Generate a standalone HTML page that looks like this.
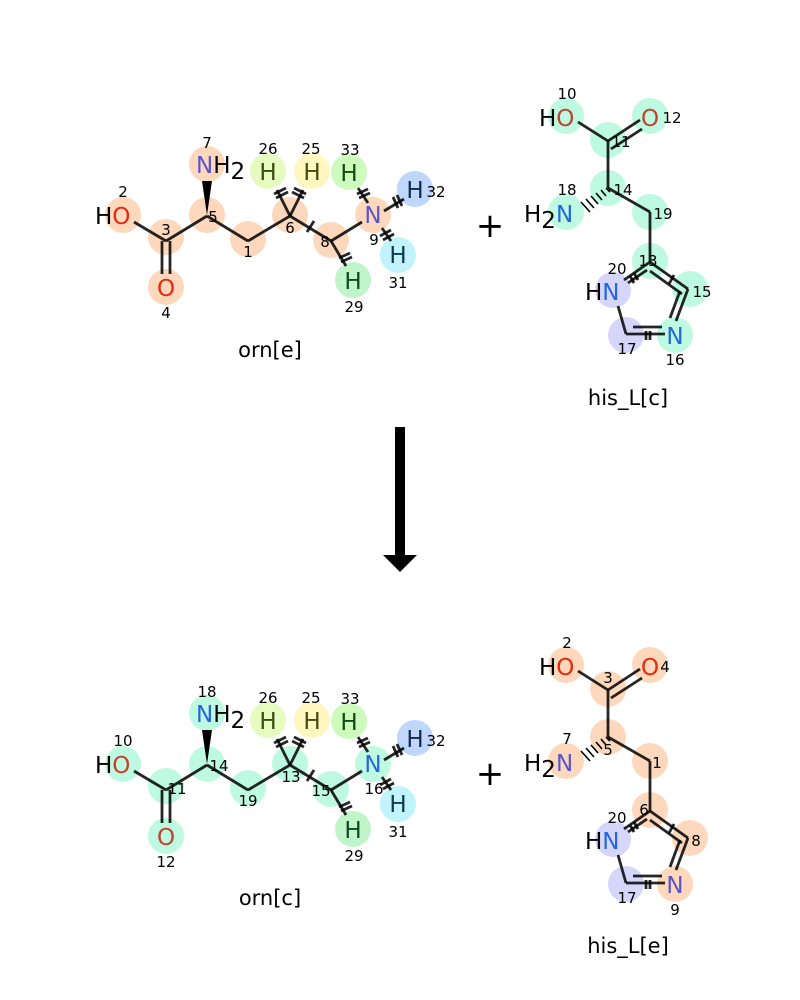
<!DOCTYPE html>
<html><head><meta charset="utf-8"><style>
html,body{margin:0;padding:0;background:#fff}
svg{display:block}
text{font-family:"DejaVu Sans","Liberation Sans",sans-serif}
.e{font-size:23px}
.n{font-size:15px;fill:#000}
.c{font-size:21px;fill:#000}
</style></head><body>
<svg width="800" height="1000" viewBox="0 0 800 1000" xmlns="http://www.w3.org/2000/svg">
<defs>
<g id="ornb" stroke="#000" stroke-width="2.8" fill="none" stroke-opacity="0.85">
<line x1="134" y1="222" x2="166" y2="241"/>
<line x1="162" y1="241" x2="162" y2="274"/><line x1="170" y1="241" x2="170" y2="274"/>
<line x1="166" y1="241" x2="207" y2="216"/>
<line x1="207" y1="216" x2="248" y2="241"/>
<line x1="248" y1="241" x2="290" y2="216"/>
<line x1="290" y1="216" x2="277" y2="190"/>
<line x1="290" y1="216" x2="303" y2="190"/>
<line x1="290" y1="216" x2="331" y2="241"/>
<line x1="331" y1="241" x2="362" y2="222"/>
<line x1="331" y1="241" x2="346" y2="266"/>
<line x1="368" y1="203" x2="358" y2="188"/>
<line x1="384" y1="211" x2="404" y2="199"/>
<line x1="382" y1="228" x2="391" y2="241"/>
<line x1="274" y1="194" x2="286" y2="188"/><line x1="276" y1="198" x2="288" y2="192"/>
<line x1="294" y1="188" x2="306" y2="194"/><line x1="292" y1="192" x2="304" y2="198"/>
<line x1="307" y1="232" x2="314" y2="221"/>
<line x1="339" y1="258" x2="350" y2="253"/><line x1="341" y1="262" x2="352" y2="257"/>
<line x1="357" y1="194" x2="368" y2="189"/><line x1="359" y1="198" x2="370" y2="193"/>
<line x1="393" y1="197" x2="398" y2="208"/><line x1="397" y1="195" x2="402" y2="206"/>
<line x1="380" y1="236" x2="391" y2="230"/><line x1="383" y1="240" x2="394" y2="234"/>
</g>
<g id="hisb" stroke="#000" stroke-width="2.8" fill="none" stroke-opacity="0.85">
<line x1="578" y1="122" x2="608" y2="141"/>
<line x1="608" y1="141" x2="640" y2="120"/><line x1="611" y1="149" x2="642" y2="129"/>
<line x1="608" y1="141" x2="608" y2="188"/>
<line x1="608" y1="188" x2="650" y2="212"/>
<line x1="650" y1="212" x2="650" y2="262"/>
<line x1="650" y1="262" x2="688" y2="289"/><line x1="650" y1="271" x2="682" y2="294"/>
<line x1="688" y1="289" x2="676" y2="321"/><line x1="680" y1="291" x2="670" y2="318"/>
<line x1="665" y1="334" x2="626" y2="334"/><line x1="662" y1="327" x2="633" y2="327"/>
<line x1="626" y1="334" x2="618" y2="306"/>
<line x1="650" y1="262" x2="624" y2="280"/><line x1="647" y1="270" x2="628" y2="283"/>
<line x1="669" y1="284" x2="674" y2="275"/>
<line x1="646" y1="331" x2="646" y2="340"/><line x1="650" y1="331" x2="650" y2="340"/>
<line x1="630" y1="276" x2="634" y2="283"/><line x1="634" y1="273" x2="638" y2="280"/>
</g>
<g id="hash" stroke="#000" stroke-width="1.6">
<line x1="606" y1="188" x2="610" y2="192"/><line x1="601" y1="190" x2="606" y2="196"/>
<line x1="596" y1="193" x2="602" y2="200"/><line x1="591" y1="196" x2="598" y2="204"/>
<line x1="586" y1="199" x2="594" y2="208"/><line x1="581" y1="202" x2="590" y2="212"/>
</g>
</defs>

<!-- TOP LEFT orn[e] -->
<g fill="#fdd8bd">
<circle cx="123" cy="215" r="18"/><circle cx="166" cy="237" r="18"/><circle cx="166" cy="287" r="18"/>
<circle cx="207" cy="215" r="18"/><circle cx="207" cy="164" r="18"/><circle cx="248" cy="239" r="18"/>
<circle cx="290" cy="215" r="18"/><circle cx="331" cy="240" r="18"/><circle cx="373" cy="215" r="18"/>
</g>
<circle cx="268" cy="171" r="18" fill="#e6fbc0"/><circle cx="312" cy="171" r="18" fill="#fff6c0"/>
<circle cx="349" cy="172" r="18" fill="#ccfbbc"/><circle cx="415" cy="189" r="18" fill="#bed7fb"/>
<circle cx="398" cy="255" r="18" fill="#c0f3fb"/><circle cx="353" cy="280" r="18" fill="#bff5c8"/>
<use href="#ornb"/>
<polygon points="207,215 202,181 212,181" fill="#000"/>
<text class="e" x="95" y="224"><tspan fill="#000">H</tspan><tspan fill="#e8290f">O</tspan></text>
<text class="e" x="166" y="296" text-anchor="middle" fill="#e8290f">O</text>
<text class="e" x="196" y="173"><tspan fill="#5a55c8">N</tspan><tspan fill="#000">H</tspan><tspan fill="#000" dy="6">2</tspan></text>
<text class="e" x="373" y="223" text-anchor="middle" fill="#5a55c8">N</text>
<text class="e" x="268" y="180" text-anchor="middle" fill="#3a4a10">H</text><text class="e" x="312" y="180" text-anchor="middle" fill="#4a4a10">H</text>
<text class="e" x="349" y="181" text-anchor="middle" fill="#104a10">H</text><text class="e" x="415" y="198" text-anchor="middle" fill="#102a4a">H</text>
<text class="e" x="398" y="263" text-anchor="middle" fill="#103a4a">H</text><text class="e" x="353" y="289" text-anchor="middle" fill="#104a20">H</text>
<g class="n" text-anchor="middle">
<text x="123" y="197">2</text><text x="166" y="235">3</text><text x="166" y="318">4</text>
<text x="213" y="222">5</text><text x="207" y="148">7</text><text x="248" y="257">1</text>
<text x="290" y="233">6</text><text x="325" y="247">8</text><text x="374" y="245">9</text>
<text x="268" y="154">26</text><text x="311" y="154">25</text><text x="350" y="155">33</text>
<text x="436" y="197">32</text><text x="398" y="288">31</text><text x="354" y="312">29</text>
</g>
<text class="c" x="270" y="357" text-anchor="middle">orn[e]</text>

<!-- TOP RIGHT his_L[c] -->
<g fill="#bef9e1">
<circle cx="566" cy="116" r="18"/><circle cx="650" cy="116" r="18"/><circle cx="608" cy="140" r="18"/>
<circle cx="608" cy="188" r="18"/><circle cx="566" cy="212" r="18"/><circle cx="650" cy="212" r="18"/>
<circle cx="650" cy="261" r="18"/><circle cx="690" cy="289" r="18"/><circle cx="675" cy="335" r="18"/>
</g>
<circle cx="613" cy="290" r="18" fill="#d6d6fb"/><circle cx="626" cy="335" r="18" fill="#d6d6fb"/>
<use href="#hisb"/><use href="#hash"/>
<text class="e" x="539" y="126"><tspan fill="#000">H</tspan><tspan fill="#c0442f">O</tspan></text>
<text class="e" x="650" y="126" text-anchor="middle" fill="#c0442f">O</text>
<text class="e" x="524" y="222" fill="#000">H<tspan dy="6">2</tspan><tspan dy="-6" fill="#2266e0">N</tspan></text>
<text class="e" x="585" y="300"><tspan fill="#000">H</tspan><tspan fill="#2266e0">N</tspan></text>
<text class="e" x="675" y="344" text-anchor="middle" fill="#2266e0">N</text>
<g class="n" text-anchor="middle">
<text x="567" y="99">10</text><text x="672" y="123">12</text><text x="621" y="147">11</text>
<text x="623" y="195">14</text><text x="567" y="195">18</text><text x="663" y="219">19</text>
<text x="648" y="266">13</text><text x="617" y="274">20</text><text x="702" y="297">15</text>
<text x="627" y="354">17</text><text x="675" y="365">16</text>
</g>
<text class="c" x="628" y="405" text-anchor="middle">his_L[c]</text>

<text x="490" y="237" font-size="34" text-anchor="middle" fill="#000">+</text>
<text x="490" y="785" font-size="34" text-anchor="middle" fill="#000">+</text>

<rect x="395" y="427" width="10" height="130" fill="#000"/>
<polygon points="383,555 417,555 400,572" fill="#000"/>

<!-- BOTTOM LEFT orn[c] -->
<g transform="translate(0,549)">
<g fill="#bef9e1">
<circle cx="123" cy="215" r="18"/><circle cx="166" cy="237" r="18"/><circle cx="166" cy="287" r="18"/>
<circle cx="207" cy="215" r="18"/><circle cx="207" cy="164" r="18"/><circle cx="248" cy="239" r="18"/>
<circle cx="290" cy="215" r="18"/><circle cx="331" cy="240" r="18"/><circle cx="373" cy="215" r="18"/>
</g>
<circle cx="268" cy="171" r="18" fill="#e6fbc0"/><circle cx="312" cy="171" r="18" fill="#fff6c0"/>
<circle cx="349" cy="172" r="18" fill="#ccfbbc"/><circle cx="415" cy="189" r="18" fill="#bed7fb"/>
<circle cx="398" cy="255" r="18" fill="#c0f3fb"/><circle cx="353" cy="280" r="18" fill="#bff5c8"/>
<use href="#ornb"/>
<polygon points="207,215 202,181 212,181" fill="#000"/>
<text class="e" x="95" y="224"><tspan fill="#000">H</tspan><tspan fill="#c0442f">O</tspan></text>
<text class="e" x="166" y="296" text-anchor="middle" fill="#c0442f">O</text>
<text class="e" x="196" y="173"><tspan fill="#2266e0">N</tspan><tspan fill="#000">H</tspan><tspan fill="#000" dy="6">2</tspan></text>
<text class="e" x="373" y="223" text-anchor="middle" fill="#2266e0">N</text>
<text class="e" x="268" y="180" text-anchor="middle" fill="#3a4a10">H</text><text class="e" x="312" y="180" text-anchor="middle" fill="#4a4a10">H</text>
<text class="e" x="349" y="181" text-anchor="middle" fill="#104a10">H</text><text class="e" x="415" y="198" text-anchor="middle" fill="#102a4a">H</text>
<text class="e" x="398" y="263" text-anchor="middle" fill="#103a4a">H</text><text class="e" x="353" y="289" text-anchor="middle" fill="#104a20">H</text>
<g class="n" text-anchor="middle">
<text x="123" y="197">10</text><text x="177" y="245">11</text><text x="166" y="318">12</text>
<text x="219" y="222">14</text><text x="207" y="148">18</text><text x="248" y="257">19</text>
<text x="291" y="233">13</text><text x="321" y="247">15</text><text x="374" y="245">16</text>
<text x="268" y="154">26</text><text x="311" y="154">25</text><text x="350" y="155">33</text>
<text x="436" y="197">32</text><text x="398" y="288">31</text><text x="354" y="312">29</text>
</g>
<text class="c" x="270" y="356" text-anchor="middle">orn[c]</text>
</g>

<!-- BOTTOM RIGHT his_L[e] -->
<g transform="translate(0,549)">
<g fill="#fdd8bd">
<circle cx="566" cy="116" r="18"/><circle cx="650" cy="116" r="18"/><circle cx="608" cy="140" r="18"/>
<circle cx="608" cy="188" r="18"/><circle cx="566" cy="212" r="18"/><circle cx="650" cy="212" r="18"/>
<circle cx="650" cy="261" r="18"/><circle cx="690" cy="289" r="18"/><circle cx="675" cy="335" r="18"/>
</g>
<circle cx="613" cy="290" r="18" fill="#d6d6fb"/><circle cx="626" cy="335" r="18" fill="#d6d6fb"/>
<use href="#hisb"/><use href="#hash"/>
<text class="e" x="539" y="126"><tspan fill="#000">H</tspan><tspan fill="#e8290f">O</tspan></text>
<text class="e" x="650" y="126" text-anchor="middle" fill="#e8290f">O</text>
<text class="e" x="524" y="222" fill="#000">H<tspan dy="6">2</tspan><tspan dy="-6" fill="#5a55c8">N</tspan></text>
<text class="e" x="585" y="300"><tspan fill="#000">H</tspan><tspan fill="#2266e0">N</tspan></text>
<text class="e" x="675" y="344" text-anchor="middle" fill="#5a55c8">N</text>
<g class="n" text-anchor="middle">
<text x="567" y="99">2</text><text x="665" y="123">4</text><text x="608" y="134">3</text>
<text x="608" y="206">5</text><text x="567" y="195">7</text><text x="657" y="219">1</text>
<text x="644" y="266">6</text><text x="617" y="274">20</text><text x="696" y="297">8</text>
<text x="627" y="354">17</text><text x="675" y="366">9</text>
</g>
<text class="c" x="628" y="404" text-anchor="middle">his_L[e]</text>
</g>
</svg>
</body></html>
